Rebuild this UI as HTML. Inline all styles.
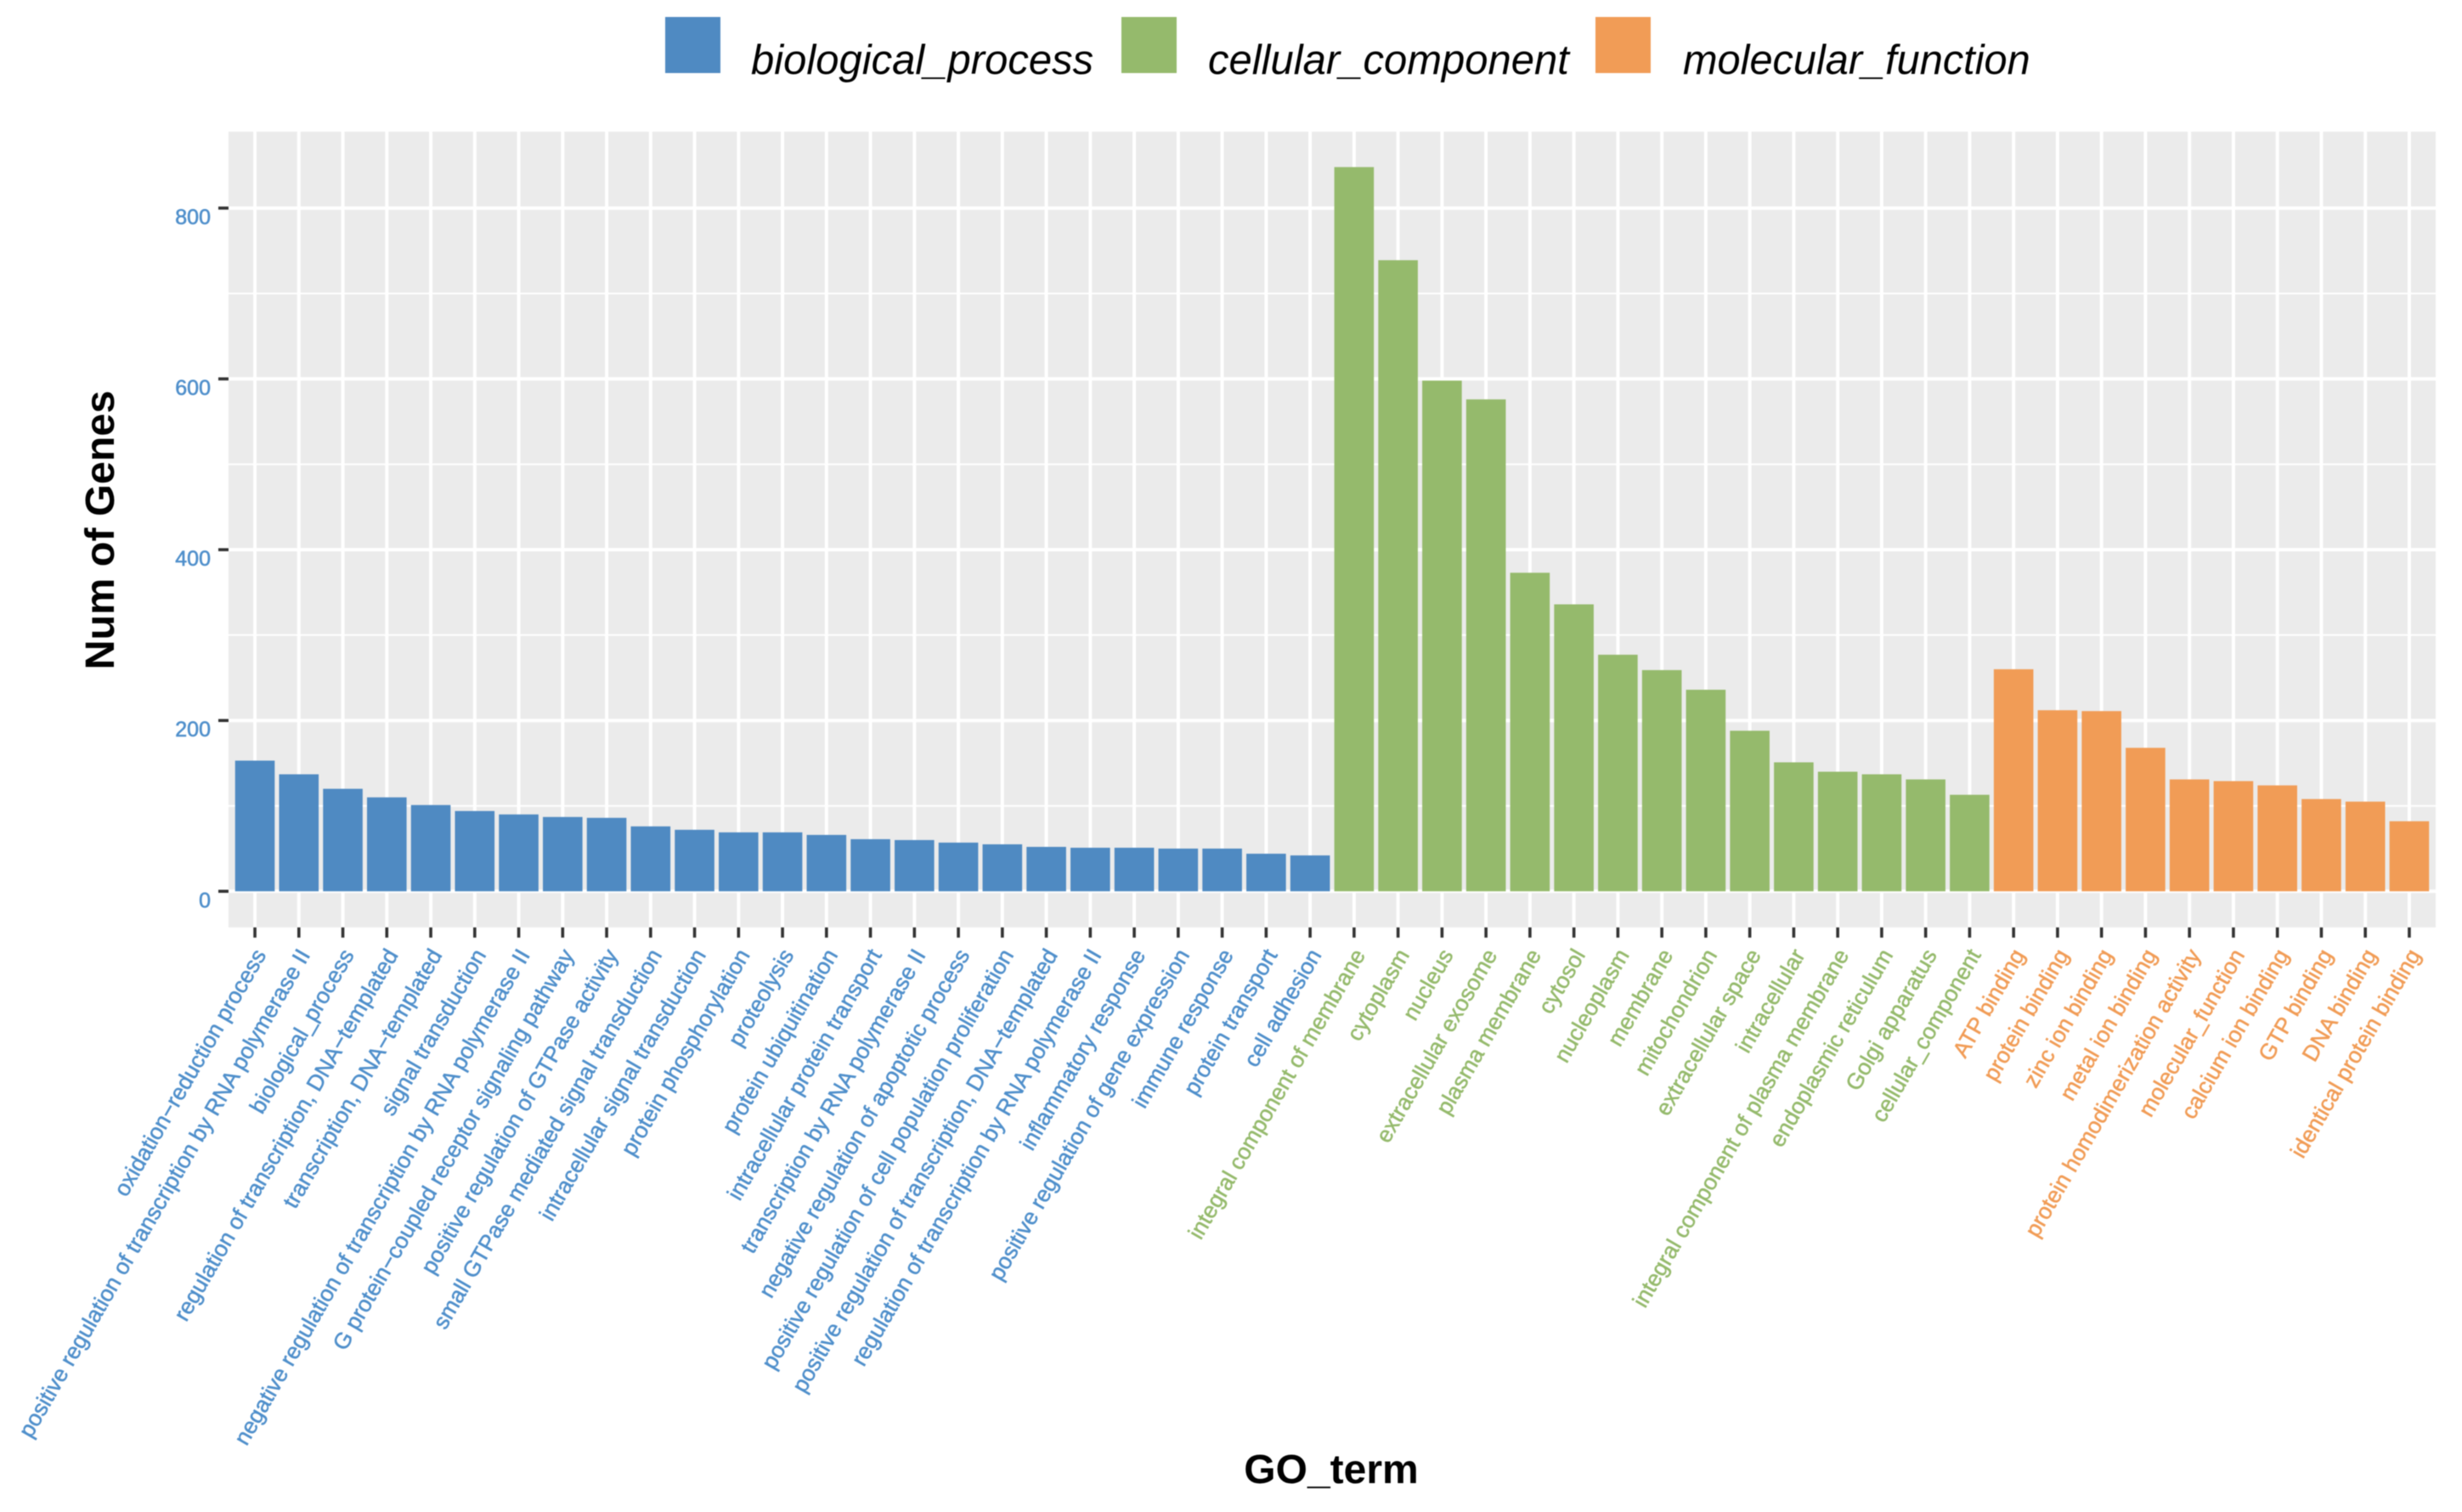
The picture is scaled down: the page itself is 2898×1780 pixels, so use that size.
<!DOCTYPE html>
<html lang="en">
<head>
<meta charset="utf-8">
<title>GO term bar chart</title>
<style>
  html, body { margin: 0; padding: 0; background: #ffffff; }
  body { width: 2898px; height: 1780px; overflow: hidden; }
  #chart { display: block; filter: blur(0.6px); font-family: "Liberation Sans", Arial, sans-serif; }
</style>
</head>
<body>
<svg id="chart" xmlns="http://www.w3.org/2000/svg" width="2898" height="1780" viewBox="0 0 2898 1780">
  <rect x="0" y="0" width="2898" height="1780" fill="#ffffff"/>

  <g>
    <g>
      <rect x="783" y="20" width="65" height="66" fill="#4F8AC2"/>
      <text x="884" y="87" font-size="49" font-style="italic" fill="#000000">biological_process</text>
    </g>
    <g>
      <rect x="1320" y="20" width="65" height="66" fill="#95BA6C"/>
      <text x="1422" y="87" font-size="49" font-style="italic" fill="#000000">cellular_component</text>
    </g>
    <g>
      <rect x="1878" y="20" width="65" height="66" fill="#F19C56"/>
      <text x="1981" y="87" font-size="48.7" font-style="italic" fill="#000000">molecular_function</text>
    </g>
  </g>

  <rect id="panel" fill="#EBEBEB"/>
  <g id="grid"></g>
  <g id="bars"></g>
  <g id="y-axis"></g>
  <g id="x-axis"></g>

  <text transform="translate(134 624) rotate(-90)" text-anchor="middle" font-size="48.5" font-weight="bold" fill="#000000">Num of Genes</text>
  <text x="1567" y="1746" text-anchor="middle" font-size="48" font-weight="bold" fill="#000000">GO_term</text>
</svg>

<script>
const biologicalProcessTerms = [
  "oxidation\u2212reduction process",
  "positive regulation of transcription by RNA polymerase II",
  "biological_process",
  "regulation of transcription, DNA\u2212templated",
  "transcription, DNA\u2212templated",
  "signal transduction",
  "negative regulation of transcription by RNA polymerase II",
  "G protein\u2212coupled receptor signaling pathway",
  "positive regulation of GTPase activity",
  "small GTPase mediated signal transduction",
  "intracellular signal transduction",
  "protein phosphorylation",
  "proteolysis",
  "protein ubiquitination",
  "intracellular protein transport",
  "transcription by RNA polymerase II",
  "negative regulation of apoptotic process",
  "positive regulation of cell population proliferation",
  "positive regulation of transcription, DNA\u2212templated",
  "regulation of transcription by RNA polymerase II",
  "inflammatory response",
  "positive regulation of gene expression",
  "immune response",
  "protein transport",
  "cell adhesion"
];
const biologicalProcessCounts = [153, 137, 120, 110, 101, 94, 90, 87, 86, 76, 72, 69, 69, 66, 61, 60, 57, 55, 52, 51, 51, 50, 50, 44, 42];

const cellularComponentTerms = [
  "integral component of membrane",
  "cytoplasm",
  "nucleus",
  "extracellular exosome",
  "plasma membrane",
  "cytosol",
  "nucleoplasm",
  "membrane",
  "mitochondrion",
  "extracellular space",
  "intracellular",
  "integral component of plasma membrane",
  "endoplasmic reticulum",
  "Golgi apparatus",
  "cellular_component"
];
const cellularComponentCounts = [848, 739, 598, 576, 373, 336, 277, 259, 236, 188, 151, 140, 137, 131, 113];

const molecularFunctionTerms = [
  "ATP binding",
  "protein binding",
  "zinc ion binding",
  "metal ion binding",
  "protein homodimerization activity",
  "molecular_function",
  "calcium ion binding",
  "GTP binding",
  "DNA binding",
  "identical protein binding"
];
const molecularFunctionCounts = [260, 212, 211, 168, 131, 129, 124, 108, 105, 82];

const yMajorTicks = [0, 200, 400, 600, 800];
const yMinorTicks = [100, 300, 500, 700];
const yDomain = [-42.3, 889.5];

const PANEL = { left: 269, right: 2867, top: 155, bottom: 1091.8 };
const COLORS = { bp: "#4F8AC2", cc: "#95BA6C", mf: "#F19C56", bpText: "#4F8FCB", ccText: "#95BA6C", mfText: "#F19C56" };
const NS = "http://www.w3.org/2000/svg";

const groups = [
  { key: "bp", terms: biologicalProcessTerms, counts: biologicalProcessCounts },
  { key: "cc", terms: cellularComponentTerms, counts: cellularComponentCounts },
  { key: "mf", terms: molecularFunctionTerms, counts: molecularFunctionCounts }
];
const categoryCount = groups.reduce(function (n, g) { return n + g.terms.length; }, 0);
const step = (PANEL.right - PANEL.left) / (categoryCount - 1 + 1.2);

function xScale(index) {
  return PANEL.left + (index + 0.6) * step;
}
function yScale(value) {
  return PANEL.bottom - (value - yDomain[0]) / (yDomain[1] - yDomain[0]) * (PANEL.bottom - PANEL.top);
}
function slug(text) {
  return text.toLowerCase().replace(/[^a-z0-9]+/g, "-").replace(/^-|-$/g, "");
}
function make(tag, attrs, parent) {
  const el = document.createElementNS(NS, tag);
  Object.keys(attrs).forEach(function (k) { el.setAttribute(k, attrs[k]); });
  parent.appendChild(el);
  return el;
}

const panel = document.getElementById("panel");
panel.setAttribute("x", PANEL.left);
panel.setAttribute("y", PANEL.top);
panel.setAttribute("width", PANEL.right - PANEL.left);
panel.setAttribute("height", PANEL.bottom - PANEL.top);

const gridGroup = document.getElementById("grid");
const barsGroup = document.getElementById("bars");
const yAxisGroup = document.getElementById("y-axis");
const xAxisGroup = document.getElementById("x-axis");

yMinorTicks.forEach(function (v) {
  const line = make("line", { x1: PANEL.left, x2: PANEL.right, y1: yScale(v), y2: yScale(v), stroke: "#ffffff", "stroke-width": 2 }, gridGroup);
  
  
});

yMajorTicks.forEach(function (v) {
  const y = yScale(v);
  const line = make("line", { x1: PANEL.left, x2: PANEL.right, y1: y, y2: y, stroke: "#ffffff", "stroke-width": 4 }, gridGroup);
  
  

  const tick = make("line", { x1: 257, x2: PANEL.left, y1: y, y2: y, stroke: "#333333", "stroke-width": 3.6 }, yAxisGroup);
  
  

  const label = make("text", { x: 248, y: y + 19, "text-anchor": "end", "font-size": 25, fill: COLORS.bpText, stroke: COLORS.bpText, "stroke-width": 0.6 }, yAxisGroup);
  
  
  label.textContent = String(v);
});

let barIndex = 0;
groups.forEach(function (group) {
  group.terms.forEach(function (term, i) {
    const cx = xScale(barIndex);

    const vGrid = make("line", { x1: cx, x2: cx, y1: PANEL.top, y2: PANEL.bottom, stroke: "#ffffff", "stroke-width": 4 }, gridGroup);
    
    

    const barWidth = step * 0.9;
    const top = yScale(group.counts[i]);
    const bar = make("rect", { x: cx - barWidth / 2, y: top, width: barWidth, height: yScale(0) - top, fill: COLORS[group.key] }, barsGroup);
    
    

    const tick = make("line", { x1: cx, x2: cx, y1: PANEL.bottom, y2: PANEL.bottom + 12, stroke: "#333333", "stroke-width": 3.6 }, xAxisGroup);
    
    

    const lx = cx + 14;
    const ly = 1124;
    const label = make("text", {
      x: lx, y: ly, "text-anchor": "end", "font-size": 26.5, fill: COLORS[group.key + "Text"],
      stroke: COLORS[group.key + "Text"], "stroke-width": 0.5,
      transform: "rotate(-60 " + lx + " " + ly + ")"
    }, xAxisGroup);
    
    
    label.textContent = term;

    barIndex += 1;
  });
});
</script>
</body>
</html>
